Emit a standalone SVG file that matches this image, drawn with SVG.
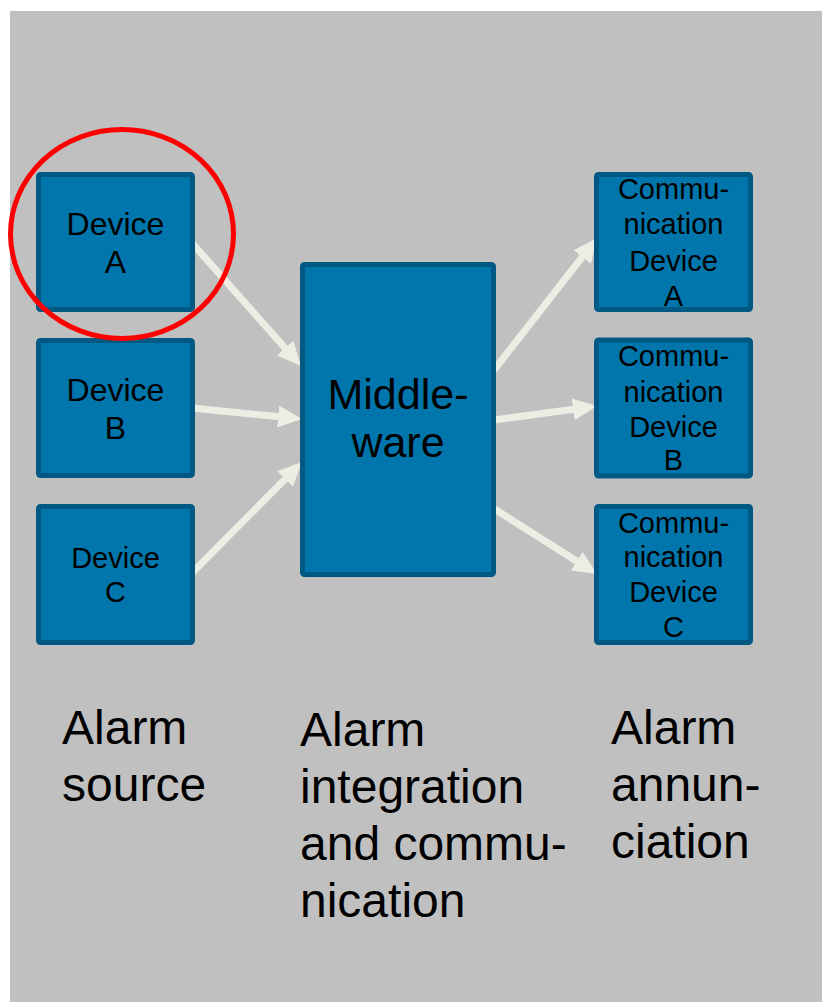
<svg xmlns="http://www.w3.org/2000/svg" width="822" height="1002" viewBox="0 0 822 1002">
<defs>
<style>
.box{fill:#0076ac;stroke:#005983;stroke-width:5}
.t{font-family:"Liberation Sans",Arial,sans-serif;fill:#000;text-anchor:middle}
.lbl{font-family:"Liberation Sans",Arial,sans-serif;fill:#000;font-size:48px}
.arr{stroke:#eeede3;stroke-width:7;fill:none;marker-end:url(#ah)}
</style>
<marker id="ah" markerUnits="userSpaceOnUse" markerWidth="24" markerHeight="22" refX="4" refY="11" orient="auto" viewBox="0 0 24 22">
<path d="M0,0 L24,11 L0,22 z" fill="#eeede3"/>
</marker>
</defs>
<rect x="0" y="0" width="822" height="1002" fill="#ffffff"/>
<rect x="10" y="11" width="812" height="991" fill="#c0c0c0"/>

<g id="connectors">
<line class="arr" x1="192" y1="243" x2="287.7" y2="351"/>
<line class="arr" x1="192" y1="408" x2="282.1" y2="417"/>
<line class="arr" x1="192" y1="573" x2="287.9" y2="476.2"/>
<line class="arr" x1="494" y1="370" x2="584.7" y2="253.8"/>
<line class="arr" x1="494" y1="420" x2="577.2" y2="408.7"/>
<line class="arr" x1="493" y1="508" x2="580.1" y2="563.3"/>
</g>

<g id="deviceA">
<rect class="box" x="38.5" y="174.5" width="154" height="135" rx="2"/>
<text class="t" font-size="32" x="115.5" y="235">Device</text>
<text class="t" font-size="32" x="115.5" y="273">A</text>
</g>
<g id="deviceB">
<rect class="box" x="38.5" y="340.5" width="154" height="135" rx="2"/>
<text class="t" font-size="32" x="115.5" y="401">Device</text>
<text class="t" font-size="32" x="115.5" y="439">B</text>
</g>
<g id="deviceC">
<rect class="box" x="38.5" y="506.5" width="154" height="136" rx="2"/>
<text class="t" font-size="29" x="115.5" y="568">Device</text>
<text class="t" font-size="29" x="115.5" y="602">C</text>
</g>

<g id="middleware">
<rect class="box" x="302.5" y="264.5" width="191" height="310" rx="2"/>
<text class="t" font-size="43" x="398" y="409">Middle-</text>
<text class="t" font-size="43" x="398" y="457">ware</text>
</g>

<g id="commA">
<rect class="box" x="596.5" y="174.5" width="154" height="135" rx="2"/>
<text class="t" font-size="29" x="673.5" y="199">Commu-</text>
<text class="t" font-size="29" x="673.5" y="234">nication</text>
<text class="t" font-size="29" x="673.5" y="270.5">Device</text>
<text class="t" font-size="29" x="673.5" y="305.5">A</text>
</g>
<g id="commB">
<rect class="box" x="596.5" y="340" width="154" height="136" rx="2"/>
<text class="t" font-size="29" x="673.5" y="365.5">Commu-</text>
<text class="t" font-size="29" x="673.5" y="401.5">nication</text>
<text class="t" font-size="29" x="673.5" y="437">Device</text>
<text class="t" font-size="29" x="673.5" y="470">B</text>
</g>
<g id="commC">
<rect class="box" x="596.5" y="506.5" width="154" height="136" rx="2"/>
<text class="t" font-size="29" x="673.5" y="533">Commu-</text>
<text class="t" font-size="29" x="673.5" y="567">nication</text>
<text class="t" font-size="29" x="673.5" y="602">Device</text>
<text class="t" font-size="29" x="673.5" y="636.5">C</text>
</g>

<g id="highlight">
<ellipse cx="122" cy="234" rx="111.5" ry="104.5" fill="none" stroke="#ff0000" stroke-width="5"/>
</g>

<g id="label-source">
<text class="lbl" x="62" y="744">Alarm</text>
<text class="lbl" x="62" y="801">source</text>
</g>
<g id="label-integration">
<text class="lbl" x="300" y="746">Alarm</text>
<text class="lbl" x="300" y="803">integration</text>
<text class="lbl" x="300" y="860">and commu-</text>
<text class="lbl" x="300" y="917">nication</text>
</g>
<g id="label-annunciation">
<text class="lbl" x="611" y="744">Alarm</text>
<text class="lbl" x="611" y="801">annun-</text>
<text class="lbl" x="611" y="858">ciation</text>
</g>
</svg>
